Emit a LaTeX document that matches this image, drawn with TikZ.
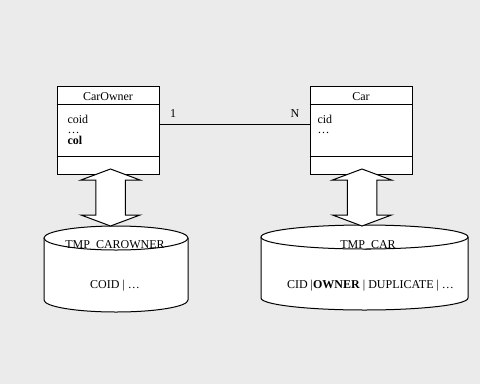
\documentclass[tikz,border=0pt]{standalone}
\usepackage{fontspec}
\setmainfont{Liberation Serif}
\usetikzlibrary{positioning}
\definecolor{bggray}{RGB}{235,235,235}
\newcommand{\maparrow}[1]{%
  \draw[blockarrow] (#1,169) -- ({#1+29.5},180) -- ({#1+14.75},180) -- ({#1+14.75},215)
    -- ({#1+29.5},215) -- (#1,226) -- ({#1-29.5},215) -- ({#1-14.75},215)
    -- ({#1-14.75},180) -- ({#1-29.5},180) -- cycle;}

\tikzset{
  classbox/.style={draw, fill=white, minimum width=102pt, minimum height=88pt, inner sep=0pt},
  txt/.style={inner sep=0pt},
  blockarrow/.style={draw, fill=white},
  tank/.style={draw, fill=white}
}

\begin{document}
\begin{tikzpicture}[x=1pt, y=-1pt, line width=1pt, font=\fontsize{12}{12}\selectfont]
    \fill[bggray] (0,0) rectangle (480,384);

    % classes
    \node[classbox] (owner) at (108,130) {};
    \node[classbox] (car) at (361,130) {};
    \foreach \b in {owner,car} {
      \draw ([yshift=-19pt]\b.north west) -- ([yshift=-19pt]\b.north east);
      \draw ([yshift=18pt]\b.south west) -- ([yshift=18pt]\b.south east);
    }
    \node[txt, anchor=base] (ownername) at (108,100) {CarOwner};
    \node[txt, anchor=base west] (coid) at (67,123) {coid};
    \node[txt, anchor=base west] (odots) at (67,133.5) {\ldots};
    \node[txt, anchor=base west] (col) at (67,144) {\textbf{col}};
    \node[txt, anchor=base] (carname) at (361,100) {Car};
    \node[txt, anchor=base west] (cid) at (317,123) {cid};
    \node[txt, anchor=base west] (cdots) at (317,133.5) {\ldots};

    % association
    \draw ([yshift=6pt]owner.east) -- ([yshift=6pt]car.west);
    \node[txt, anchor=base] (one) at (173,117) {1};
    \node[txt, anchor=base] (many) at (295,117) {N};

    % temp tables
    \draw[tank] (44,238) -- (44,300) arc[start angle=180, end angle=0, x radius=72, y radius=12] -- (188,238);
    \draw[tank] (116,238) ellipse[x radius=72, y radius=12];
    \draw[tank] (261,237) -- (261,298) arc[start angle=180, end angle=0, x radius=103.5, y radius=12] -- (468,237);
    \draw[tank] (364.5,237) ellipse[x radius=103.5, y radius=12];

    \maparrow{110.5}
    \maparrow{362}

    \node[txt, anchor=base] (tmpowner) at (115,248) {TMP\_CAROWNER};
    \node[txt, anchor=base] (ownercols) at (115,288) {COID | \ldots};
    \node[txt, anchor=base] (tmpcar) at (368,248) {TMP\_CAR};
    \node[txt, anchor=base] (carcols) at (370.5,288) {CID |\textbf{OWNER} | DUPLICATE | \ldots};
\end{tikzpicture}
\end{document}
